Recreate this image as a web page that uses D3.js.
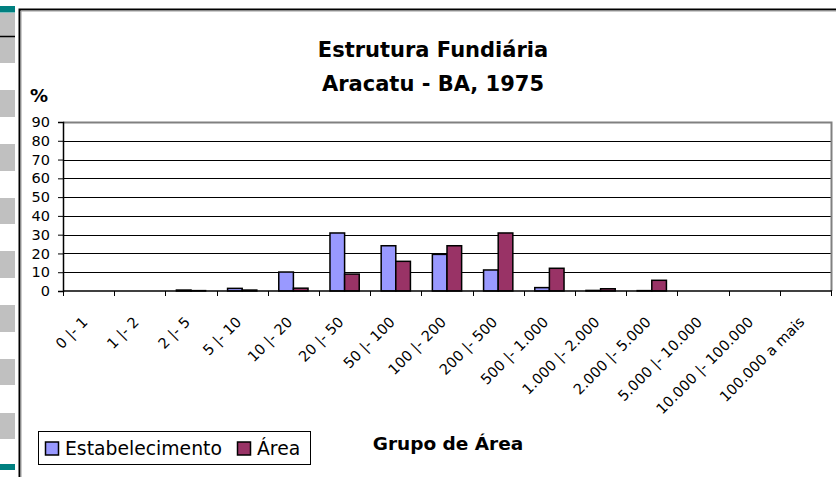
<!DOCTYPE html>
<html>
<head>
<meta charset="utf-8">
<script src="https://cdn.jsdelivr.net/npm/d3@7"></script>
<style>
  body { margin: 0; background: #fff; }
  svg { display: block; font-family: "DejaVu Sans", "Liberation Sans", Arial, sans-serif; }
</style>
</head>
<body>
<div id="chart"></div>
<script>
// data
var categories = ["0 |- 1", "1 |- 2", "2 |- 5", "5 |- 10", "10 |- 20", "20 |- 50", "50 |- 100",
  "100 |- 200", "200 |- 500", "500 |- 1.000", "1.000 |- 2.000", "2.000 |- 5.000",
  "5.000 |- 10.000", "10.000 |- 100.000", "100.000 a mais"];
var estabelecimento = [0, 0, 0.5, 1.4, 10.1, 30.9, 24.1, 19.5, 11.2, 1.8, 0.3, 0.2, 0, 0, 0];
var area = [0, 0, 0.2, 0.5, 1.5, 9.0, 15.8, 24.1, 30.9, 12.1, 1.2, 5.7, 0, 0, 0];
var seriesNames = ["Estabelecimento", "Área"];
var seriesColors = ["#9999FF", "#993366"];
var yTicks = [0, 10, 20, 30, 40, 50, 60, 70, 80, 90];

var W = 836, H = 477;
var plot = {left: 63, right: 831, top: 122, bottom: 291};

var svg = d3.select("#chart").append("svg")
    .attr("width", W).attr("height", H);

// slide decoration on the left
var deco = svg.append("g");
deco.append("rect").attr("x", 0).attr("y", 6).attr("width", 15).attr("height", 6.5).attr("fill", "#008080");
deco.append("rect").attr("x", 0).attr("y", 464).attr("width", 15).attr("height", 6).attr("fill", "#008080");
[[13, 50], [90, 27], [144, 27], [198, 26], [251, 27], [305, 27], [359, 26], [413, 26]].forEach(function(r){
  deco.append("rect").attr("x", 0).attr("y", r[0]).attr("width", 15).attr("height", r[1]).attr("fill", "#C0C0C0");
});
deco.append("line").attr("x1", 0).attr("x2", 15).attr("y1", 36.5).attr("y2", 36.5).attr("stroke", "#000").attr("stroke-width", 1.5);

// chart frame
svg.append("path").attr("d", "M19.5,477V9.5H836").attr("fill", "none").attr("stroke", "#000").attr("stroke-width", 2);
svg.append("path").attr("d", "M21,477V11H836").attr("fill", "none").attr("stroke", "#999").attr("stroke-width", 1);

var x = d3.scaleBand().domain(categories).range([plot.left, plot.right]).padding(0);
var x1 = d3.scaleBand().domain(seriesNames).range([0, x.bandwidth()]).paddingInner(0).paddingOuter(0.75);
var y = d3.scaleLinear().domain([0, 90]).range([plot.bottom, plot.top]);

// gridlines
svg.append("g").selectAll("line").data(yTicks.filter(function(d){ return d > 0 && d < 90; }))
  .enter().append("line")
  .attr("x1", plot.left).attr("x2", plot.right)
  .attr("y1", function(d){ return Math.round(y(d)) + 0.5; })
  .attr("y2", function(d){ return Math.round(y(d)) + 0.5; })
  .attr("stroke", "#000").attr("stroke-width", 1);

// plot border (top + right)
svg.append("path")
  .attr("d", "M" + plot.left + "," + (plot.top + 0.5) + "H" + (plot.right + 0.5) + "V" + plot.bottom)
  .attr("fill", "none").attr("stroke", "#808080").attr("stroke-width", 2);

// bars
var rows = categories.map(function(c, i){ return {cat: c, vals: [estabelecimento[i], area[i]]}; });
var groups = svg.append("g").selectAll("g").data(rows).enter().append("g")
  .attr("transform", function(d){ return "translate(" + x(d.cat) + ",0)"; });
groups.selectAll("rect").data(function(d){ return d.vals.map(function(v, k){ return {v: v, k: k}; }); })
  .enter().filter(function(d){ return d.v > 0; }).append("rect")
  .attr("x", function(d){ return x1(seriesNames[d.k]); })
  .attr("width", x1.bandwidth())
  .attr("y", function(d){ return y(d.v); })
  .attr("height", function(d){ return y(0) - y(d.v); })
  .attr("fill", function(d){ return seriesColors[d.k]; })
  .attr("stroke", "#000").attr("stroke-width", 1.5);

// y axis
var yAxis = svg.append("g").attr("transform", "translate(" + plot.left + ",0)")
  .call(d3.axisLeft(y).tickValues(yTicks).tickSize(5).tickPadding(8));
yAxis.select(".domain").attr("stroke", "#000").attr("stroke-width", 1.5);
yAxis.selectAll(".tick line").attr("stroke", "#000");
yAxis.selectAll("text").attr("font-size", 14.5).attr("fill", "#000")
  .attr("font-family", "DejaVu Sans, Liberation Sans, Arial, sans-serif");

// x axis line and ticks between categories
svg.append("line").attr("x1", plot.left).attr("x2", plot.right + 1)
  .attr("y1", plot.bottom).attr("y2", plot.bottom).attr("stroke", "#000").attr("stroke-width", 1.5);
svg.append("g").selectAll("line").data(categories.concat(["end"])).enter().append("line")
  .attr("x1", function(d, i){ return Math.round(plot.left + i * x.step()) + 0.5; })
  .attr("x2", function(d, i){ return Math.round(plot.left + i * x.step()) + 0.5; })
  .attr("y1", plot.bottom).attr("y2", plot.bottom + 5)
  .attr("stroke", "#000");

// rotated category labels
svg.append("g").selectAll("text").data(categories).enter().append("text")
  .attr("transform", function(d){
    return "translate(" + (x(d) + x.bandwidth() / 2) + "," + (plot.bottom + 32) + ") rotate(-45)";
  })
  .attr("text-anchor", "end")
  .attr("font-size", 14.5)
  .attr("fill", "#000")
  .text(function(d){ return d; });

// titles
var title = svg.append("text").attr("text-anchor", "middle").attr("font-weight", "bold")
  .attr("font-size", 21).attr("fill", "#000");
title.append("tspan").attr("x", 433).attr("y", 57).text("Estrutura Fundiária");
title.append("tspan").attr("x", 433).attr("y", 91).text("Aracatu - BA, 1975");

svg.append("text").attr("x", 30).attr("y", 102).attr("font-weight", "bold")
  .attr("font-size", 18).text("%");

svg.append("text").attr("x", 448).attr("y", 450).attr("text-anchor", "middle")
  .attr("font-weight", "bold").attr("font-size", 18.5).text("Grupo de Área");

// legend
var legend = svg.append("g");
legend.append("rect").attr("x", 38.5).attr("y", 431.5).attr("width", 272).attr("height", 33)
  .attr("fill", "#fff").attr("stroke", "#000").attr("stroke-width", 1);
var legX = [45.5, 237.5];
seriesNames.forEach(function(name, k){
  legend.append("rect").attr("x", legX[k]).attr("y", 442).attr("width", 13).attr("height", 13)
    .attr("fill", seriesColors[k]).attr("stroke", "#000").attr("stroke-width", 1.5);
  legend.append("text").attr("x", legX[k] + 19.5).attr("y", 454.5).attr("font-size", 18.8)
    .attr("fill", "#000").text(name);
});
</script>
</body>
</html>
